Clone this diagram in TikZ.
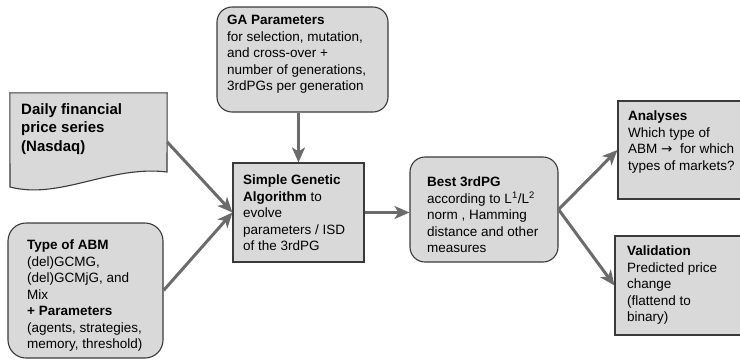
\documentclass[tikz,border=0pt]{standalone}
\usepackage{fontspec}
\setmainfont{Liberation Sans}
\newfontfamily\symfont{DejaVu Sans}
\usetikzlibrary{arrows.meta}
\definecolor{boxgray}{HTML}{D9D9D9}
\definecolor{linegray}{HTML}{6B6B6B}
\definecolor{edgegray}{HTML}{3A3A3A}

\begin{document}
\begin{tikzpicture}[x=1pt, y=-1pt,
    box/.style={draw=edgegray, line width=1.1pt, fill=boxgray, inner sep=0pt},
    rbox/.style={box, rounded corners=15pt},
    txt/.style={anchor=north west, inner sep=0pt, align=left, font=\fontsize{13.5}{16.5}\selectfont},
    flow/.style={draw=linegray, line width=3pt, -{Stealth[length=15pt, width=13pt, inset=4pt]}}]
      \clip (0,0) rectangle (740,360);

      % input boxes
      \node (doc) at (88.5,142) [inner sep=0pt, minimum width=157pt, minimum height=98pt] {};
      \draw[box] (doc.north west) -- (doc.north east) -- (167,172)
        .. controls (110,165) and (60,200) .. (10,187) -- cycle;
      \node (abm) at (85.5,290.5) [rbox, rounded corners=18pt, minimum width=155pt, minimum height=135pt] {};
      \node (ga) at (302.5,59.5) [rbox, minimum width=171pt, minimum height=105pt] {};

      % process and results
      \node (sga) at (298.5,212.5) [box, minimum width=131pt, minimum height=99pt] {};
      \node (best) at (484,209.5) [rbox, minimum width=148pt, minimum height=105pt] {};
      \node (ana) at (681.5,150) [box, minimum width=127pt, minimum height=98pt] {};
      \node (val) at (680,285.5) [box, minimum width=130pt, minimum height=99pt] {};

      % texts
      \node (doctxt) at (21,103) [txt, font=\fontsize{15}{18.5}\selectfont\bfseries] {Daily financial\\price series\\(Nasdaq)};
      \node (abmtxt) at (27,240) [txt] {\textbf{Type of ABM}\\(del)GCMG,\\(del)GCMjG, and\\Mix\\\textbf{+ Parameters}\\(agents, strategies,\\memory, threshold)};
      \node (gatxt) at (227,15) [txt] {\textbf{GA Parameters}\\for selection, mutation,\\and cross-over +\\number of generations,\\3rdPGs per generation};
      \node (sgatxt) at (243,175) [txt] {\textbf{Simple Genetic}\\\textbf{Algorithm} to\\evolve\\parameters / ISD\\of the 3rdPG};
      \node (besttxt) at (427,177) [txt] {\textbf{Best 3rdPG}\\according to L\textsuperscript{1}/L\textsuperscript{2}\\norm , Hamming\\distance and other\\measures};
      \node (anatxt) at (628,111) [txt] {\textbf{Analyses}\\Which type of\\ABM {\symfont →}\ \ for which\\types of markets?};
      \node (valtxt) at (627,246) [txt] {\textbf{Validation}\\Predicted price\\change\\(flattend to\\binary)};

      % arrows
      \draw[flow] (doc.east) -- (sga.west);
      \draw[flow] (abm.east) -- (sga.west);
      \draw[flow] (ga.south -| sga.north) -- (sga.north);
      \draw[flow] (sga.east) -- (sga.east -| best.west);
      \draw[flow] (best.east) -- (ana.west);
      \draw[flow] (best.east) -- (val.west);
    \end{tikzpicture}
\end{document}
